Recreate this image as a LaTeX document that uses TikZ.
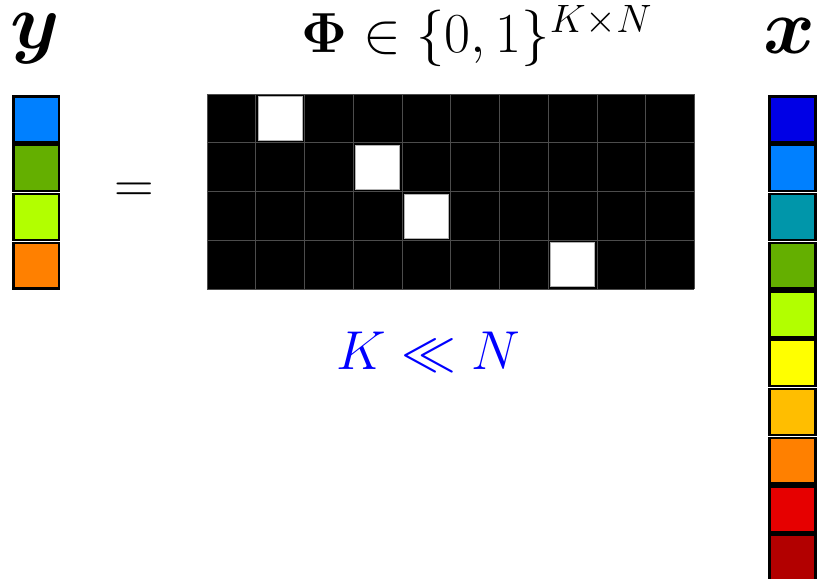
\RequirePackage{fix-cm}
\documentclass[tikz,border=0pt]{standalone}
\usepackage{amsmath,amssymb,bm}
\usetikzlibrary{calc,positioning}
\definecolor{xblue}{RGB}{0,0,230}
\definecolor{skyblue}{RGB}{0,128,255}
\definecolor{tealc}{RGB}{0,150,170}
\definecolor{grassg}{RGB}{100,175,0}
\definecolor{limec}{RGB}{178,255,0}
\definecolor{yellowc}{RGB}{255,255,0}
\definecolor{amberc}{RGB}{255,190,0}
\definecolor{orangec}{RGB}{255,128,0}
\definecolor{redc}{RGB}{230,0,0}
\definecolor{darkredc}{RGB}{178,0,0}
\newcommand{\colcell}[3]{\draw[cellframe,fill=#3] (#1+0.03,#2-0.03) rectangle ++(0.94,-0.94);}

\begin{document}
\begin{tikzpicture}[cellframe/.style={draw=black,line width=1.4pt},
  lbl/.style={inner sep=0pt}]
\useasboundingbox (0,0) rectangle (16.759,-11.877);
\coordinate (Y0) at (0.246,-1.95);
\coordinate (M0) at (4.246,-1.93);
\coordinate (X0) at (15.754,-1.95);
% measurement vector y
\foreach \c [count=\i from 0] in {skyblue,grassg,limec,orangec}
  {\colcell{0.246}{-1.95-\i}{\c}}
% signal vector x
\foreach \c [count=\i from 0] in {xblue,skyblue,tealc,grassg,limec,yellowc,amberc,orangec,redc,darkredc}
  {\colcell{15.754}{-1.95-\i}{\c}}
% sampling matrix
\begin{scope}[shift={($(M0)+(0,-4)$)}]
\fill[black] (0,0) rectangle (10,4);
\draw[white!30!black,line width=0.5pt] (0,0) grid (10,4);
\foreach \col/\row in {2/1,4/2,5/3,8/4}
  \draw[fill=white,draw=gray!60,line width=0.4pt] (\col-1+0.05,4-\row+0.05) rectangle ++(0.9,0.9);
\end{scope}
\node[lbl] (ylab) at (0.72,-0.8) {\fontsize{46}{50}\selectfont$\bm{y}$};
\node[lbl] (xlab) at (16.2,-0.74) {\fontsize{46}{50}\selectfont$\bm{x}$};
\node[lbl,anchor=base] (philab) at (9.785,-1.087) {\fontsize{33}{40}\selectfont$\mathbf{\Phi}\in\{0,1\}^{K\times N}$};
\node[lbl] (eq) at (2.75,-3.96) {\fontsize{32}{38}\selectfont$=$};
\node[lbl,anchor=base,text=blue] (ratio) at (8.78,-7.57) {\fontsize{32}{38}\selectfont$K\ll N$};
\end{tikzpicture}
\end{document}
